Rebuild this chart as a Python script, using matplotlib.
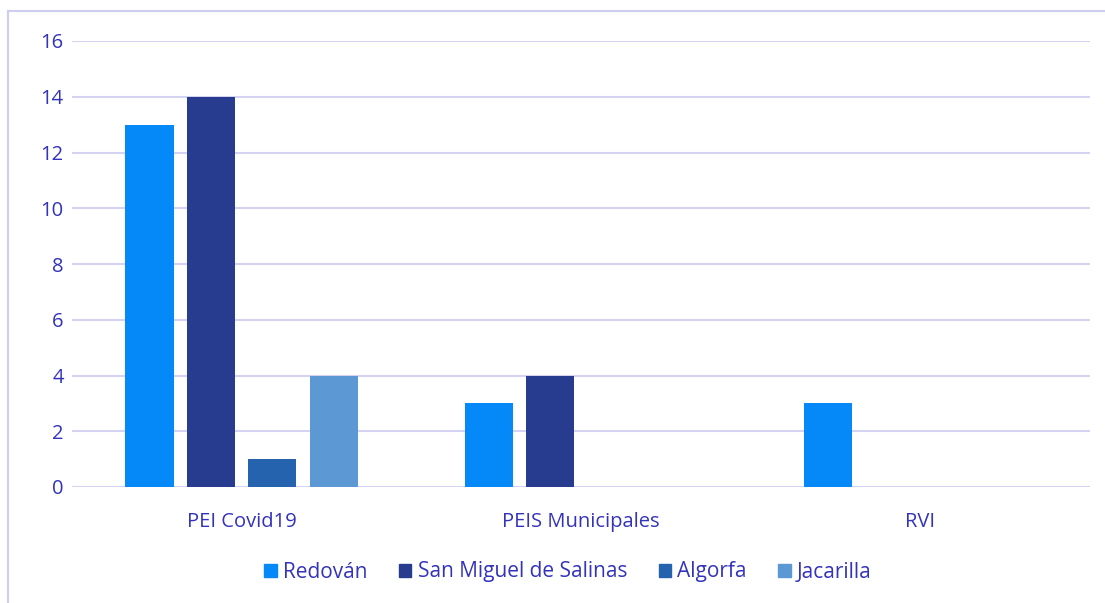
import matplotlib
matplotlib.use("Agg")
import matplotlib.pyplot as plt
import numpy as np
from matplotlib.lines import Line2D

categories = ["PEI Covid19", "PEIS Municipales", "RVI"]
series_names = ["Redován", "San Miguel de Salinas", "Algorfa", "Jacarilla"]
redovan = [13, 3, 3]
san_miguel = [14, 4, 0]
algorfa = [1, 0, 0]
jacarilla = [4, 0, 0]
series_values = [redovan, san_miguel, algorfa, jacarilla]
colors = ["#0588F8", "#283C8F", "#2563AE", "#5B98D4"]
yticks = [0, 2, 4, 6, 8, 10, 12, 14, 16]

text_color = "#3333BB"
grid_color = "#D4D4F2"

plt.rcParams['font.family'] = ['Open Sans', 'DejaVu Sans']

W, H = 1105, 603
fig = plt.figure(figsize=(W/100, H/100), dpi=100)
ax = fig.add_axes([72/W, 1-487/H, (1090-72)/W, (487-41)/H])

x = np.arange(len(categories))
step = 0.181
width = 0.142
n = len(series_values)
for i, (vals, c, name) in enumerate(zip(series_values, colors, series_names)):
    offs = (i - (n-1)/2) * step
    v = np.array(vals, dtype=float)
    mask = v > 0
    ax.bar(x[mask] + offs, v[mask], width=width, color=c, label=name, zorder=3)

ax.set_xlim(-0.5, 2.5)
ax.set_ylim(0, 16)
ax.set_yticks(yticks)
ax.set_yticklabels([str(t) for t in yticks])
ax.set_xticks(x)
ax.set_xticklabels(categories)
ax.tick_params(axis='both', length=0, colors=text_color, labelsize=14.5)
ax.tick_params(axis='y', pad=6)
ax.tick_params(axis='x', pad=18)
ax.yaxis.grid(True, color=grid_color, linewidth=1.5, zorder=0)
ax.set_axisbelow(True)
for s in ax.spines.values():
    s.set_visible(False)

handles = [plt.Rectangle((0, 0), 1, 1, color=c) for c in colors]
leg = fig.legend(handles, series_names, loc='center', bbox_to_anchor=(568/W, 1-572/H),
                 ncol=4, frameon=False, fontsize=15, handlelength=0.6, handleheight=0.6,
                 columnspacing=1.5, handletextpad=0.3)
for t in leg.get_texts():
    t.set_color(text_color)

# outer border
fig.add_artist(Line2D([8/W, 1], [1-11/H, 1-11/H], color="#CDCDF0", linewidth=1.5))
fig.add_artist(Line2D([8/W, 8/W], [0, 1-11/H], color="#CDCDF0", linewidth=1.5))

fig.savefig("out.png", dpi=100)
